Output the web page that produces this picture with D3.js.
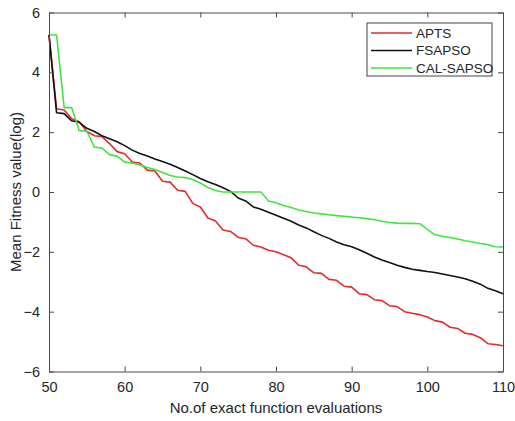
<!DOCTYPE html>
<html>
<head>
<meta charset="utf-8">
<script src="https://cdn.jsdelivr.net/npm/d3@7.9.0/dist/d3.min.js"></script>
<style>
  body { margin: 0; background: #fff; }
  svg { display: block; font-family: "Liberation Sans", Arial, sans-serif; }
</style>
</head>
<body>
<svg id="chart" width="515" height="421"></svg>
<script>
// evaluations 50..110
const evals = d3.range(50, 111);

const apts = [5.25, 2.78, 2.74, 2.45, 2.35, 2.02, 1.88, 1.85, 1.62, 1.35,
  1.28, 1.0, 0.97, 0.73, 0.7, 0.36, 0.33, 0.06, 0.02, -0.38,
  -0.5, -0.87, -0.97, -1.27, -1.32, -1.52, -1.56, -1.78, -1.84, -1.95,
  -2.0, -2.1, -2.2, -2.45, -2.5, -2.7, -2.72, -2.92, -2.95, -3.15,
  -3.18, -3.4, -3.43, -3.6, -3.63, -3.8, -3.83, -4.0, -4.05, -4.1,
  -4.18, -4.3, -4.35, -4.52, -4.56, -4.72, -4.76, -4.87, -5.07, -5.1, -5.14];

const fsapso = [5.25, 2.65, 2.62, 2.38, 2.33, 2.13, 2.02, 1.88, 1.78, 1.68,
  1.55, 1.4, 1.29, 1.2, 1.1, 1.02, 0.93, 0.82, 0.7, 0.58,
  0.45, 0.34, 0.25, 0.14, 0.02, -0.2, -0.3, -0.5, -0.58, -0.68,
  -0.78, -0.88, -0.98, -1.1, -1.2, -1.33, -1.45, -1.55, -1.67, -1.76,
  -1.83, -1.93, -2.05, -2.17, -2.27, -2.36, -2.45, -2.52, -2.58, -2.62,
  -2.66, -2.69, -2.74, -2.79, -2.84, -2.9, -2.98, -3.08, -3.22, -3.3, -3.4];

const calsapso = [5.25, 5.25, 2.82, 2.82, 2.05, 2.03, 1.5, 1.47, 1.25, 1.2,
  1.0, 0.97, 0.9, 0.82, 0.75, 0.65, 0.55, 0.5, 0.48, 0.42,
  0.3, 0.15, 0.05, 0.0, 0.0, 0.0, 0.0, 0.0, 0.0, -0.3,
  -0.36, -0.45, -0.52, -0.6, -0.65, -0.7, -0.73, -0.76, -0.79, -0.81,
  -0.84, -0.86, -0.89, -0.93, -0.98, -1.02, -1.04, -1.05, -1.05, -1.06,
  -1.25, -1.43, -1.48, -1.52, -1.57, -1.63, -1.67, -1.72, -1.76, -1.83, -1.84];

const seriesNames = ['APTS', 'FSAPSO', 'CAL-SAPSO'];
const seriesColors = ['#e42b2b', '#111111', '#40e640'];
const xTicks = [50, 60, 70, 80, 90, 100, 110];
const yTicks = [-6, -4, -2, 0, 2, 4, 6];

const svg = d3.select('#chart');
const margin = { left: 49, right: 12, top: 12.5, bottom: 49.5 };
const W = 515, H = 421;

const x = d3.scaleLinear().domain([50, 110]).range([margin.left, W - margin.right]);
const y = d3.scaleLinear().domain([-6, 6]).range([H - margin.bottom, margin.top]);

const axisColor = '#4a4a4a';

// lines
const line = d3.line().x((d, i) => x(evals[i])).y(d => y(d));
[apts, fsapso, calsapso].forEach((vals, idx) => {
  svg.append('path')
    .datum(vals)
    .attr('d', line)
    .attr('fill', 'none')
    .attr('stroke', seriesColors[idx])
    .attr('stroke-width', 1.6)
    .attr('stroke-linejoin', 'round');
});

// axes with inward ticks, box mirrored
const fontSize = 14.5;
let gx = svg.append('g').attr('transform', `translate(0,${y(-6)})`)
  .call(d3.axisBottom(x).tickValues(xTicks).tickSizeInner(-5).tickSizeOuter(0).tickPadding(8));
let gxt = svg.append('g').attr('transform', `translate(0,${y(6)})`)
  .call(d3.axisTop(x).tickValues(xTicks).tickSizeInner(-5).tickSizeOuter(0).tickFormat(''));
let gy = svg.append('g').attr('transform', `translate(${x(50)},0)`)
  .call(d3.axisLeft(y).tickValues(yTicks).tickSizeInner(-5).tickSizeOuter(0).tickPadding(9));
let gyr = svg.append('g').attr('transform', `translate(${x(110)},0)`)
  .call(d3.axisRight(y).tickValues(yTicks).tickSizeInner(-5).tickSizeOuter(0).tickFormat(''));

[gx, gxt, gy, gyr].forEach(g => {
  g.selectAll('path').attr('stroke', axisColor).attr('stroke-width', 1);
  g.selectAll('line').attr('stroke', axisColor);
  g.selectAll('text').attr('fill', '#262626').style('font-size', fontSize + 'px')
    .style('font-family', '"Liberation Sans", Arial, sans-serif');
});
gx.selectAll('text').attr('dy', '0.85em');

// axis titles
svg.append('text')
  .attr('x', (x(50) + x(110)) / 2)
  .attr('y', 413)
  .attr('text-anchor', 'middle')
  .attr('fill', '#262626')
  .style('font-size', '15px')
  .text('No.of exact function evaluations');

svg.append('text')
  .attr('transform', `translate(21,${y(0)}) rotate(-90)`)
  .attr('text-anchor', 'middle')
  .attr('fill', '#262626')
  .style('font-size', '15px')
  .text('Mean Fitness value(log)');

// legend
const legend = svg.append('g').attr('transform', 'translate(367,23)');
legend.append('rect')
  .attr('width', 125).attr('height', 53)
  .attr('fill', '#fff').attr('stroke', '#444').attr('stroke-width', 1);
seriesNames.forEach((name, i) => {
  const ly = 10 + i * 17.5;
  legend.append('line')
    .attr('x1', 4).attr('x2', 45).attr('y1', ly).attr('y2', ly)
    .attr('stroke', seriesColors[i]).attr('stroke-width', 1.6);
  legend.append('text')
    .attr('x', 49).attr('y', ly).attr('dy', '0.35em')
    .attr('fill', '#262626')
    .style('font-size', '13.5px')
    .text(name);
});
</script>
</body>
</html>
